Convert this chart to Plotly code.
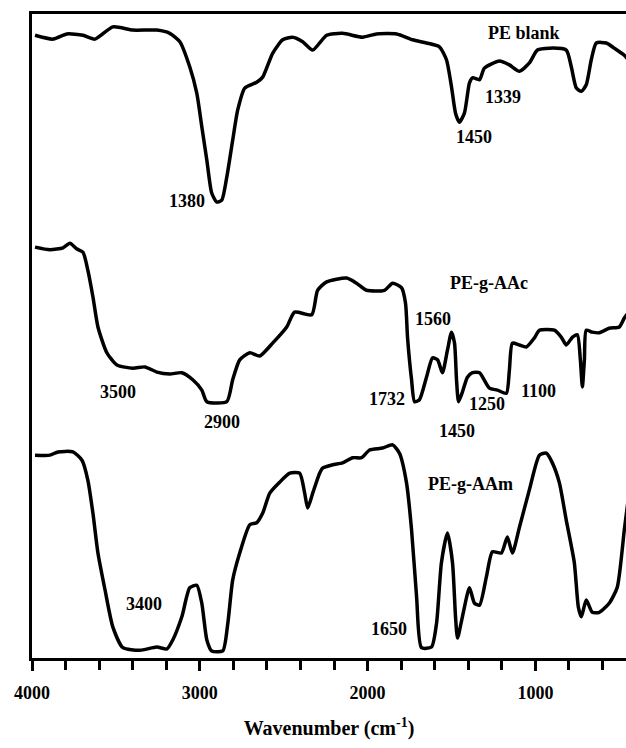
import plotly.graph_objects as go

# FTIR spectra (transmittance, offset per sample, arbitrary units)
pe_blank_wn = [3982, 3875, 3792, 3696, 3625, 3518, 3399, 3256, 3179, 3119, 3060, 3018, 2988, 2958,
               2929, 2899, 2869, 2839, 2804, 2774, 2732, 2661, 2625, 2566, 2506, 2447, 2387, 2327,
               2244, 2149, 2030, 1947, 1827, 1732, 1649, 1572, 1530, 1500, 1476, 1453, 1423, 1393,
               1375, 1333, 1304, 1214, 1155, 1095, 1036, 988, 917, 816, 786, 756, 726, 697, 667,
               637, 578, 530, 470, 450]
pe_blank_t = [96.7, 96.1, 96.9, 96.7, 96.1, 98.0, 97.5, 97.5, 97.0, 95.7, 91.8, 87.7, 82.5, 77.3,
              72.2, 70.8, 71.1, 74.7, 80.4, 85.1, 88.5, 89.4, 90.2, 93.9, 96.0, 96.4, 95.7, 94.4,
              96.7, 97.0, 96.4, 96.9, 96.9, 96.0, 95.5, 94.9, 92.9, 88.7, 84.6, 83.2, 84.6, 89.3,
              90.1, 89.8, 91.6, 92.7, 92.1, 91.1, 92.4, 94.4, 94.7, 94.4, 91.8, 88.5, 88.0, 89.0,
              92.9, 95.5, 95.5, 94.7, 93.6, 93.0]

aac_wn = [3982, 3893, 3815, 3774, 3732, 3696, 3667, 3637, 3607, 3554, 3494, 3399, 3327, 3256,
          3179, 3107, 3042, 2988, 2958, 2839, 2804, 2762, 2702, 2643, 2566, 2482, 2435, 2333,
          2298, 2244, 2125, 2066, 2006, 1899, 1851, 1798, 1774, 1762, 1738, 1720, 1691, 1649,
          1613, 1583, 1554, 1524, 1500, 1482, 1470, 1458, 1435, 1405, 1375, 1333, 1274, 1226,
          1173, 1155, 1137, 1095, 1054, 1006, 976, 887, 845, 816, 780, 750, 732, 720, 708, 697,
          661, 619, 560, 500, 470, 450]
aac_t = [63.8, 63.4, 63.7, 64.4, 63.5, 63.0, 60.2, 56.1, 51.4, 47.4, 45.5, 45.0, 45.2, 44.4,
         44.1, 44.3, 43.2, 41.6, 39.8, 39.8, 43.2, 46.3, 47.4, 46.9, 48.9, 51.4, 53.7, 53.3,
         57.1, 58.4, 59.0, 58.2, 57.1, 57.1, 58.2, 57.5, 55.1, 49.8, 43.2, 39.8, 40.1, 43.6,
         46.6, 46.3, 44.3, 47.8, 50.6, 48.9, 43.2, 39.8, 41.3, 43.6, 44.3, 44.3, 41.9, 41.6,
         41.1, 44.7, 48.9, 48.6, 48.3, 49.7, 50.9, 50.9, 49.8, 48.6, 49.8, 50.2, 46.3, 42.1,
         46.3, 50.9, 50.6, 50.5, 51.2, 51.4, 52.8, 53.5]

aam_wn = [3982, 3893, 3845, 3756, 3702, 3667, 3637, 3607, 3565, 3518, 3458, 3357, 3256, 3196,
          3161, 3107, 3060, 3018, 2988, 2958, 2929, 2863, 2833, 2804, 2762, 2702, 2661, 2625,
          2583, 2524, 2464, 2405, 2375, 2357, 2327, 2286, 2268, 2208, 2149, 2089, 2036, 1988,
          1911, 1851, 1810, 1768, 1738, 1708, 1679, 1619, 1589, 1560, 1524, 1494, 1476, 1464,
          1435, 1393, 1363, 1333, 1292, 1256, 1203, 1167, 1137, 1095, 1036, 976, 935, 899, 857,
          816, 768, 744, 726, 697, 661, 619, 560, 512, 470, 450]
aam_t = [31.5, 31.5, 32.0, 32.0, 30.7, 27.6, 22.5, 16.3, 10.6, 4.8, 1.6, 1.2, 1.7, 1.4,
         2.8, 6.4, 10.9, 11.3, 8.5, 2.8, 1.1, 1.1, 5.4, 12.1, 16.3, 20.7, 21.0, 22.5,
         25.6, 27.3, 28.7, 28.7, 25.6, 23.3, 25.6, 28.7, 29.5, 30.0, 30.3, 31.1, 31.1, 32.3,
         32.6, 33.1, 31.8, 27.2, 19.9, 9.5, 1.6, 1.7, 5.4, 14.8, 19.4, 14.8, 6.4, 3.1,
         6.4, 10.9, 8.5, 8.2, 12.6, 16.5, 16.3, 18.8, 16.3, 20.3, 26.1, 31.5, 31.8, 30.3, 27.2,
         21.4, 14.8, 7.9, 6.4, 9.0, 7.1, 7.1, 8.5, 11.0, 19.9, 24.0]

# Peak / sample labels: (text, wavenumber, y)
labels = [
    ("PE blank", 1066, 97.0), ("1339", 1191, 87.1), ("1450", 1363, 80.9), ("1380", 3077, 71.0),
    ("3500", 3488, 41.3), ("2900", 2869, 36.6), ("PE-g-AAc", 1274, 58.2), ("1560", 1613, 52.6),
    ("1732", 1887, 40.2), ("1250", 1286, 39.4), ("1100", 982, 41.5), ("1450", 1470, 35.2),
    ("3400", 3333, 8.4), ("PE-g-AAm", 1387, 27.0), ("1650", 1875, 4.5),
]

tick_vals = [4000, 3000, 2000, 1000]

SERIF = "Liberation Serif, Times New Roman, serif"

fig = go.Figure()
for wn, t in [(pe_blank_wn, pe_blank_t), (aac_wn, aac_t), (aam_wn, aam_t)]:
    fig.add_trace(go.Scatter(x=wn, y=t, mode="lines",
                             line=dict(color="black", width=3.5, shape="spline", smoothing=0.6),
                             showlegend=False, hoverinfo="skip"))

for text, x, y in labels:
    fig.add_annotation(x=x, y=y, text=text, showarrow=False,
                       font=dict(family=SERIF, size=18, color="black", weight="bold"))

fig.update_layout(
    width=626, height=748,
    margin=dict(l=32, r=0, t=14, b=90),
    paper_bgcolor="white", plot_bgcolor="white",
    xaxis=dict(
        range=[4000, 460], showgrid=False, zeroline=False,
        showline=True, linecolor="black", linewidth=3, mirror=True,
        tickmode="array", tickvals=tick_vals, ticks="outside", ticklen=10, tickwidth=3,
        tickcolor="black", ticklabelstandoff=6,
        tickfont=dict(family=SERIF, size=18, color="black", weight="bold"),
        minor=dict(tickmode="linear", tick0=0, dtick=200, ticks="outside", ticklen=9,
                   tickwidth=3, tickcolor="black"),
        title=dict(text="Wavenumber (cm<sup>-1</sup>)", standoff=20,
                   font=dict(family=SERIF, size=20, color="black", weight="bold")),
    ),
    yaxis=dict(
        range=[0, 100], showgrid=False, zeroline=False,
        showline=True, linecolor="black", linewidth=3,
        ticks="", showticklabels=False,
    ),
)

fig.write_html("out.html")
